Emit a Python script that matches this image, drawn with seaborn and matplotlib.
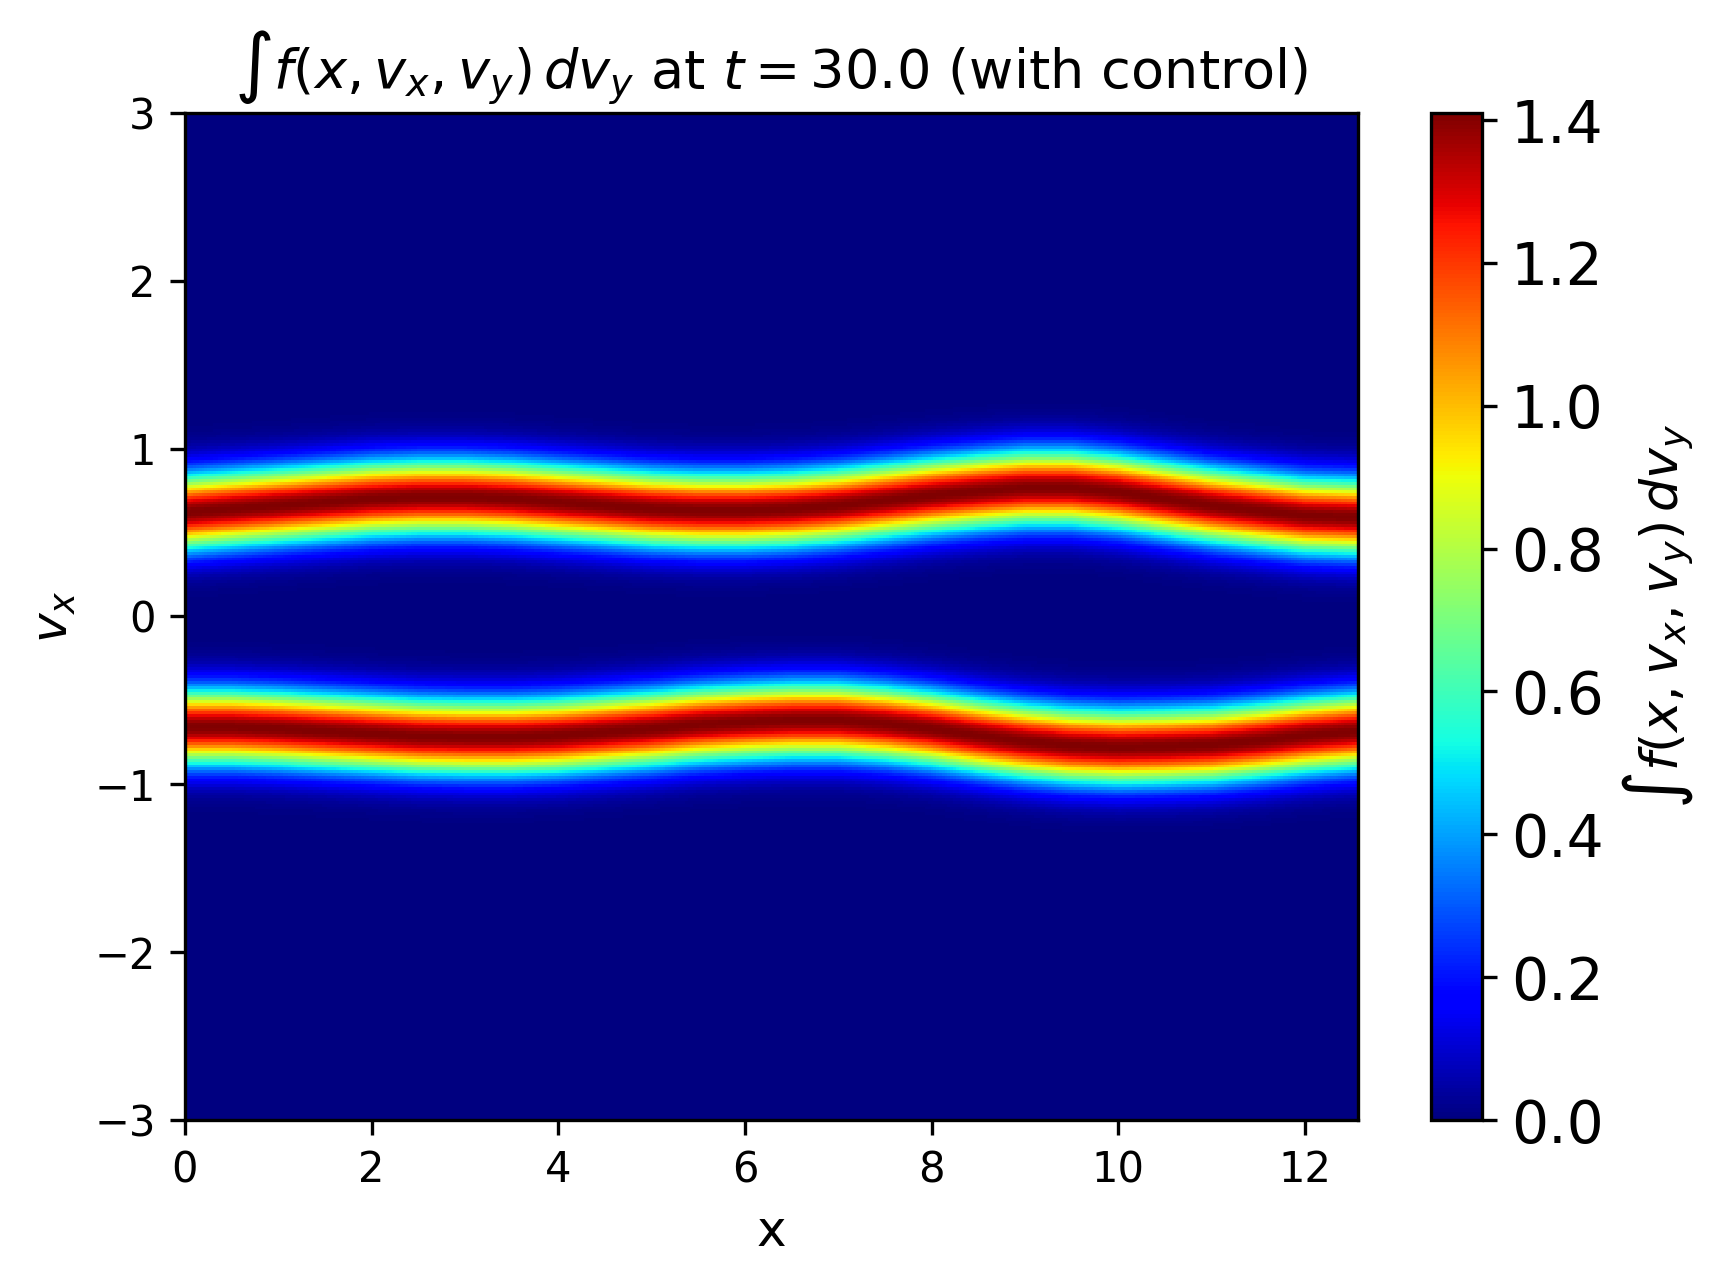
import numpy as np
import pandas as pd
import matplotlib
matplotlib.use("Agg")
import matplotlib.pyplot as plt
import seaborn as sns

# ---- data ----
x_samples = [0.0, 0.5, 1.0, 1.5, 2.0, 2.5, 3.0, 3.5, 4.0, 4.5, 5.0, 5.5, 6.0,
             6.5, 7.0, 7.5, 8.0, 8.5, 9.0, 9.5, 10.0, 10.5, 11.0, 11.5, 12.0, 12.566]
upper_beam_center = [0.62, 0.64, 0.66, 0.68, 0.70, 0.71, 0.71, 0.70, 0.68, 0.66, 0.64, 0.63, 0.63,
                     0.64, 0.66, 0.69, 0.72, 0.745, 0.765, 0.765, 0.74, 0.70, 0.66, 0.63, 0.60, 0.59]
lower_beam_center = [-0.66, -0.66, -0.67, -0.685, -0.70, -0.715, -0.72, -0.72, -0.71, -0.69, -0.67,
                     -0.645, -0.63, -0.62, -0.62, -0.64, -0.67, -0.71, -0.745, -0.77, -0.78, -0.775,
                     -0.765, -0.74, -0.71, -0.685]
beam_peak = 1.41
beam_width = 0.153
x_range = [0.0, 4 * np.pi]
v_range = [-3.0, 3.0]
x_ticks = [0, 2, 4, 6, 8, 10, 12]
v_ticks = [-3, -2, -1, 0, 1, 2, 3]
cbar_ticks = [0.0, 0.2, 0.4, 0.6, 0.8, 1.0, 1.2, 1.4]

# ---- build field on a grid ----
nx, nv = 420, 360
x_grid = x_range[0] + (np.arange(nx) + 0.5) * (x_range[1] - x_range[0]) / nx
v_grid = v_range[1] - (np.arange(nv) + 0.5) * (v_range[1] - v_range[0]) / nv  # top row = +3
up = np.interp(x_grid, x_samples, upper_beam_center)
lo = np.interp(x_grid, x_samples, lower_beam_center)
V = v_grid[:, None]
field = beam_peak * (np.exp(-(V - up[None, :]) ** 2 / (2 * beam_width ** 2))
                     + np.exp(-(V - lo[None, :]) ** 2 / (2 * beam_width ** 2)))
df = pd.DataFrame(field, index=np.round(v_grid, 4), columns=np.round(x_grid, 4))

# ---- plot ----
fig = plt.figure(figsize=(5.74, 4.277), dpi=300)
ax = fig.add_axes([0.1074, 0.1271, 0.6812, 0.7849])
cax = fig.add_axes([0.8308, 0.1271, 0.0296, 0.7849])

sns.heatmap(df, ax=ax, cbar_ax=cax, cmap="jet", vmin=0.0, vmax=float(field.max()),
            xticklabels=False, yticklabels=False, rasterized=True,
            cbar_kws={"ticks": cbar_ticks})

def xpos(val):
    return (val - x_range[0]) / (x_range[1] - x_range[0]) * nx

def vpos(val):
    return (v_range[1] - val) / (v_range[1] - v_range[0]) * nv

def fmt(t):
    s = f"{t:g}"
    return s.replace("-", "\u2212")

ax.set_xticks([xpos(t) for t in x_ticks])
ax.set_xticklabels([fmt(t) for t in x_ticks], rotation=0, fontsize=10)
ax.set_yticks([vpos(t) for t in v_ticks])
ax.set_yticklabels([fmt(t) for t in v_ticks], rotation=0, fontsize=10)
ax.tick_params(axis="both", direction="out", length=3.5, width=0.8, colors="black")
for sp in ax.spines.values():
    sp.set_visible(True)
    sp.set_linewidth(0.8)
    sp.set_color("black")
ax.set_xlabel("x", fontsize=12)
ax.set_ylabel("$v_x$", fontsize=12)
ax.set_title(r"$\int f(x, v_x, v_y)\, dv_y$ at $t = 30.0$ (with control)", fontsize=13)

cb = ax.collections[0].colorbar
cb.outline.set_visible(True)
cb.outline.set_linewidth(0.8)
cb.outline.set_edgecolor("black")
cb.ax.tick_params(labelsize=14, length=3.5, width=0.8)
cb.ax.set_yticklabels([f"{t:.1f}" for t in cbar_ticks])
cb.set_label(r"$\int f(x, v_x, v_y)\, dv_y$", fontsize=12.5)

fig.savefig("out.png", dpi=300)
